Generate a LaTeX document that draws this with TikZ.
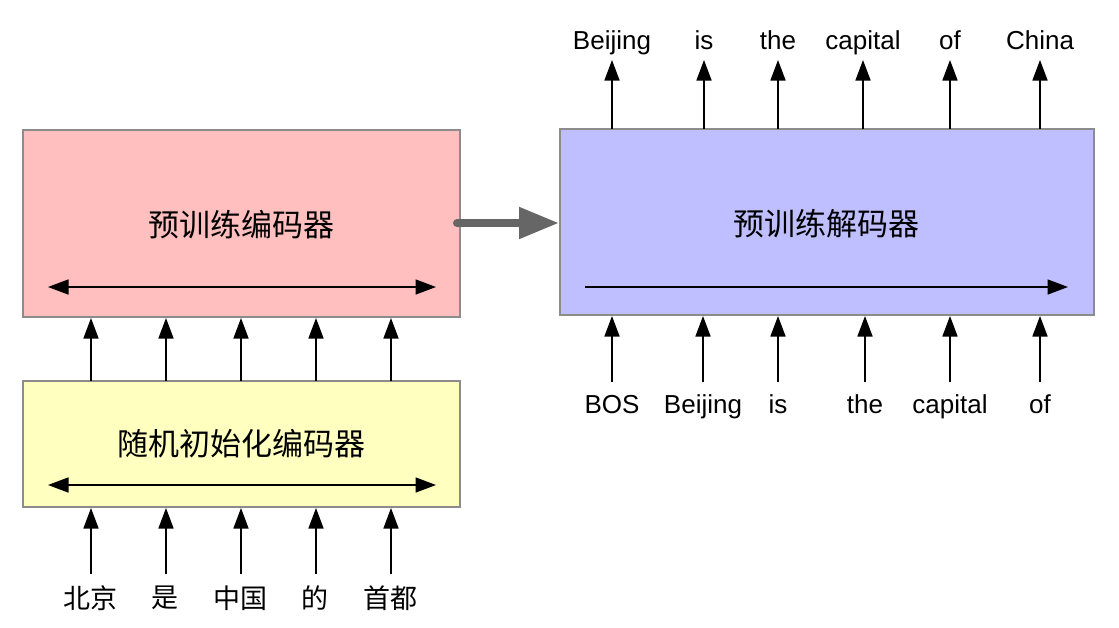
\documentclass[tikz,border=0pt]{standalone}
\usepackage{fontspec}
\setmainfont{Liberation Sans}
\newfontfamily\cjk{Noto Sans CJK SC}
\usetikzlibrary{arrows.meta}
\definecolor{redfill}{HTML}{FFBFBF}
\definecolor{yelfill}{HTML}{FFFFC0}
\definecolor{bluefill}{HTML}{BFBFFF}
\definecolor{boxline}{HTML}{8C8C8C}
\definecolor{bigarrow}{HTML}{666666}
\begin{document}
\begin{tikzpicture}[x=1pt,y=-1pt,
  blk/.style={draw=boxline,line width=1.5pt},
  tip/.tip={Triangle[length=20.5pt,width=15pt]},
  arr/.style={line width=1.6pt,-tip},
  darr/.style={line width=1.6pt,tip-tip},
  lat/.style={font=\fontsize{26}{30}\selectfont,inner sep=0pt},
  cjkl/.style={font=\cjk\fontsize{27}{32}\selectfont,inner sep=0pt},
  cjkb/.style={font=\cjk\fontsize{31}{36}\selectfont,inner sep=0pt}]
\useasboundingbox (0,0) rectangle (1119,627);
% boxes
\path[blk,fill=redfill] (23,130) rectangle (460,317);
\path[blk,fill=yelfill] (23,381) rectangle (460,507);
\path[blk,fill=bluefill] (560,129) rectangle (1094,315);
\coordinate (blueW) at (559,223);
\node[cjkb] (enc) at (241,225) {预训练编码器};
\node[cjkb] (rnd) at (241,444) {随机初始化编码器};
\node[cjkb] (dec) at (826,224) {预训练解码器};
% internal arrows
\coordinate (e1) at (48,287); \coordinate (e2) at (436,287);
\draw[darr] (e1) -- (e2);
\coordinate (r1) at (48,485); \coordinate (r2) at (436,485);
\draw[darr] (r1) -- (r2);
\coordinate (d1) at (585,287); \coordinate (d2) at (1068,287);
\draw[arr] (d1) -- (d2);
% big arrow
\coordinate (redE) at (457,223);
\draw[line width=8pt,bigarrow,line cap=round,-{Triangle[length=40pt,width=30pt]}] (redE) -- (blueW);
% encoder arrows
\foreach \x/\t [count=\i] in {91/北京,166/是,241/中国,316/的,391/首都}{
  \coordinate (ya\i) at (\x,381);
  \coordinate (rb\i) at (\x,318);
  \draw[arr] (ya\i) -- (rb\i);
  \node[cjkl] (in\i) at (\x-1,598) {\t};
  \coordinate (it\i) at (\x,574);
  \coordinate (yb\i) at (\x,508);
  \draw[arr] (it\i) -- (yb\i);
}
% decoder outputs
\foreach \x/\t [count=\i] in {612/Beijing,704/is,778/the,863/capital,950/of,1040/China}{
  \coordinate (bt\i) at (\x,129);
  \node[lat,anchor=base] (out\i) at (\x,49) {\t};
  \coordinate (ot\i) at (\x,60);
  \draw[arr] (bt\i) -- (ot\i);
}
% decoder inputs
\foreach \x/\t [count=\i] in {612/BOS,703/Beijing,778/is,865/the,950/capital,1040/of}{
  \node[lat,anchor=base] (din\i) at (\x,413) {\t};
  \coordinate (dt\i) at (\x,382);
  \coordinate (bb\i) at (\x,316);
  \draw[arr] (dt\i) -- (bb\i);
}
\end{tikzpicture}
\end{document}
